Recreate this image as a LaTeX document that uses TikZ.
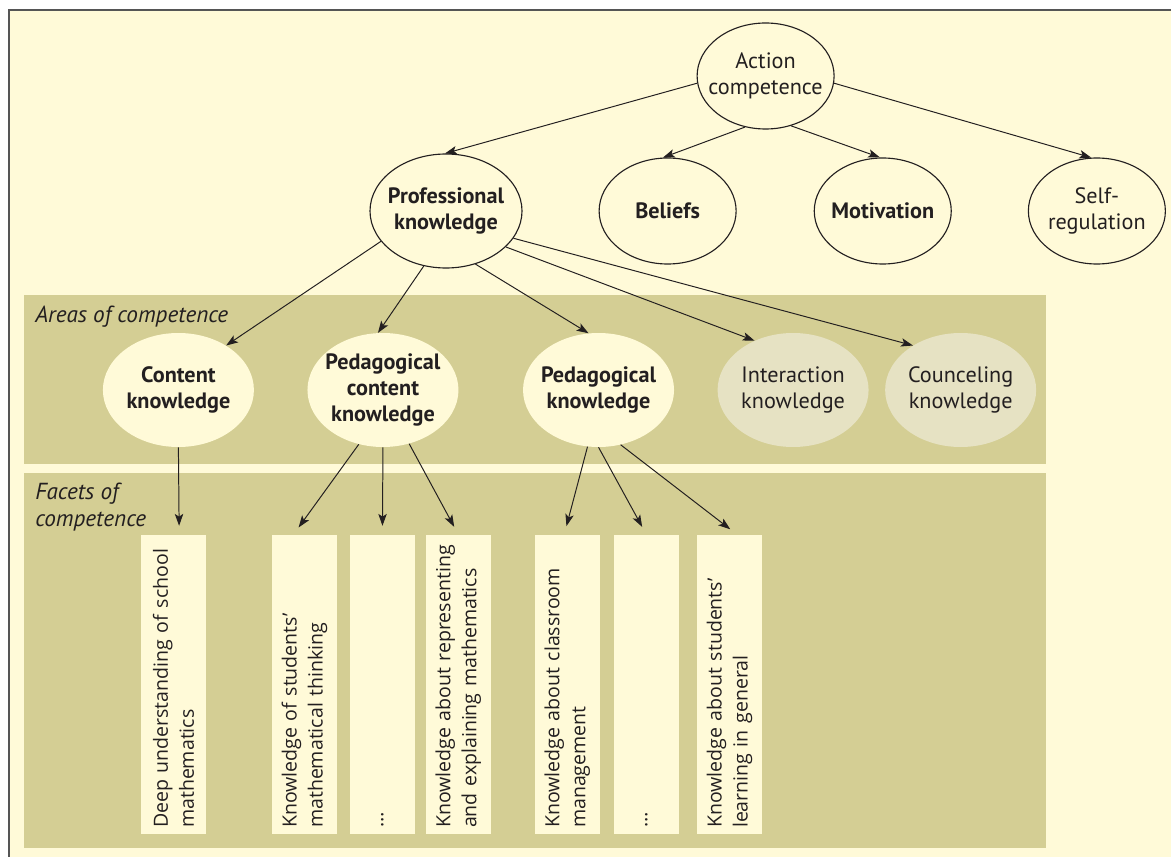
\documentclass[tikz,border=0pt]{standalone}
\usepackage{fontspec}
\setmainfont{PT Sans}
\newfontfamily\facetfont{Open Sans}
\usepackage{tikz}
\usetikzlibrary{shapes.geometric, arrows.meta, positioning}

\definecolor{paper}{RGB}{255,250,216}
\definecolor{band}{RGB}{212,206,148}
\definecolor{faded}{RGB}{230,226,195}
\definecolor{ink}{RGB}{35,31,32}
\definecolor{rim}{RGB}{85,85,85}

\begin{document}
\begin{tikzpicture}[
            oval/.style={ellipse, draw=ink, line width=0.8pt, fill=paper, text=ink, align=center, inner sep=-0.4cm, minimum width=3.425cm, minimum height=2.65cm, font=\fontsize{15.8}{18.8}\selectfont},
            area/.style={ellipse, fill=paper, text=ink, align=center, inner sep=-0.4cm, minimum width=3.775cm, minimum height=2.85cm, font=\fontsize{15.8}{18.8}\selectfont\bfseries},
            other/.style={area, fill=faded, font=\fontsize{15.8}{18.8}\selectfont},
            facet/.style={rectangle, fill=paper, rotate=90, minimum width=7.475cm, minimum height=1.625cm, text width=7.175cm, inner xsep=0.15cm, inner ysep=0pt, align=left, text=ink, font=\facetfont\fontsize{13.9}{18.5}\selectfont},
            tag/.style={inner sep=0pt, text=ink, font=\fontsize{16.5}{19}\selectfont\itshape},
            arrow/.style={-{Stealth[length=8.5pt, width=6pt, inset=2pt]}, line width=0.7pt, draw=ink},
            drop/.style={shorten >=0.22cm}
        ]
            \useasboundingbox (0,0) rectangle (29.275,-21.425);
            \fill[white] (0,0) rectangle (29.275,-21.425);
            \draw[rim, line width=1pt, fill=paper] (0.225,-0.25) rectangle (30,-22);
            \fill[band] (0.6,-7.375) rectangle (26.15,-11.6);
            \fill[band] (0.6,-11.825) rectangle (26.15,-21.2);

            % top level
            \node[oval] (act) at (19.14,-1.9) {Action\\competence};
            \node[oval, minimum width=3.8cm, minimum height=2.85cm, font=\fontsize{15.8}{18.8}\selectfont\bfseries] (prof) at (11.15,-5.275) {Professional\\knowledge};
            \node[oval, right=1.9cm of prof, font=\fontsize{15.8}{18.8}\selectfont\bfseries] (bel) {Beliefs};
            \node[oval, right=1.925cm of bel, font=\fontsize{15.8}{18.8}\selectfont\bfseries] (mot) {Motivation};
            \node[oval, right=1.9cm of mot] (self) {Self-\\regulation};

            % areas of competence
            \node[tag, anchor=base west] (areas) at (0.875,-8.05) {Areas of competence};
            \node[area] (content) at (4.46,-9.75) {Content\\knowledge};
            \node[area, right=1.325cm of content] (pck) {Pedagogical\\content\\knowledge};
            \node[area, right=1.6cm of pck] (pedk) {Pedagogical\\knowledge};
            \node[other, right=1.075cm of pedk] (inter) {Interaction\\knowledge};
            \node[other, right=0.4cm of inter] (couns) {Counceling\\knowledge};

            % facets of competence
            \node[tag, anchor=north west, align=left] (facets) at (0.875,-12.075) {Facets of\\competence};
            \node[facet] (b1) at (4.34,-17.11) {Deep understanding of school\\mathematics};
            \node[facet] (b2) at (7.61,-17.11) {Knowledge of students’\\mathematical thinking};
            \node[facet] (b3) at (9.56,-17.11) {\dots};
            \node[facet] (b4) at (11.46,-17.11) {Knowledge about representing\\and explaining mathematics};
            \node[facet] (b5) at (14.18,-17.11) {Knowledge about classroom\\management};
            \node[facet] (b6) at (16.16,-17.11) {\dots};
            \node[facet] (b7) at (18.24,-17.11) {Knowledge about students’\\learning in general};

            \draw[arrow] (act.186) -- (prof.91);
            \draw[arrow] (act.248) -- (bel.95);
            \draw[arrow] (act.297) -- (mot.93);
            \draw[arrow] (act.354) -- (self.96);

            \draw[arrow] (prof.205) -- (content.43);
            \draw[arrow] (prof.248) -- (pck.95);
            \draw[arrow] (prof.299) -- (pedk.100);
            \draw[arrow] (prof.329) -- (inter.128);
            \draw[arrow] (prof.338) -- (couns.137);

            \draw[arrow, drop] (content.south) -- ([xshift=0.14cm]b1.east);
            \draw[arrow, drop] (pck.246) -- ([xshift=-0.275cm]b2.east);
            \draw[arrow, drop] (pck.south) -- (b3.east);
            \draw[arrow, drop] (pck.296) -- (b4.east);
            \draw[arrow, drop] (pedk.259) -- ([xshift=-0.075cm]b5.east);
            \draw[arrow, drop] (pedk.south) -- (b6.east);
            \draw[arrow, drop] (pedk.292) -- ([xshift=0.19cm]b7.east);
        \end{tikzpicture}
\end{document}
